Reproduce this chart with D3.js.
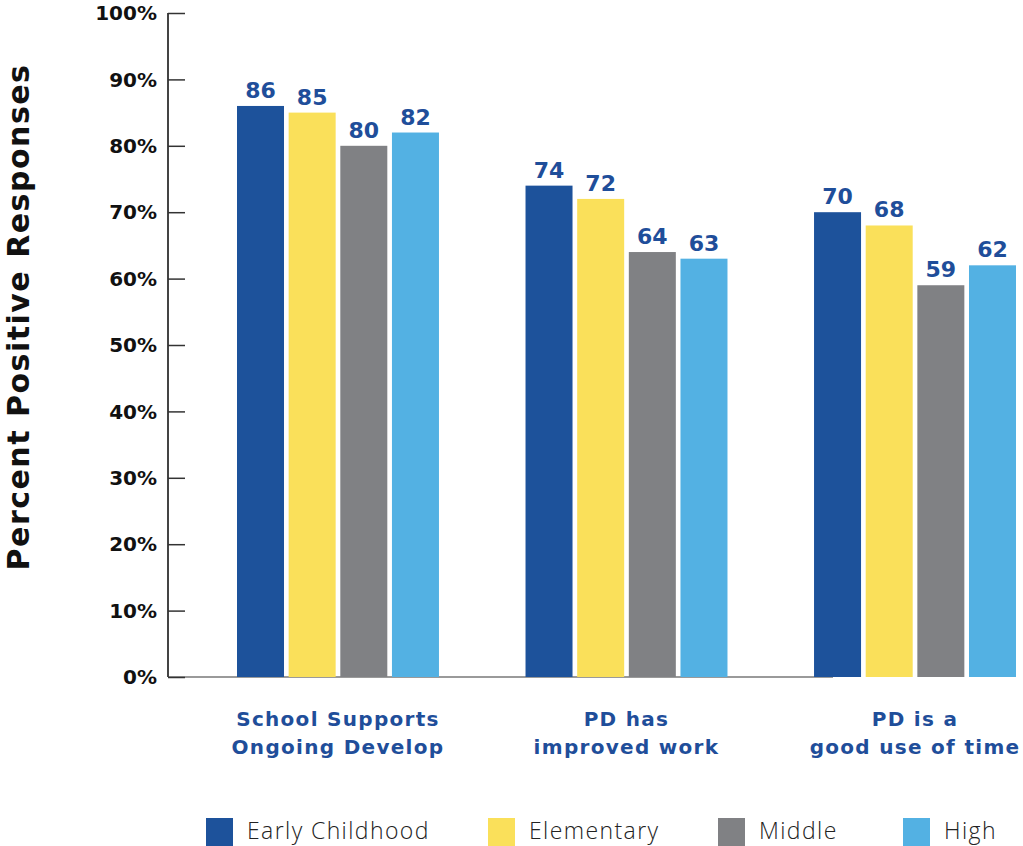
<!DOCTYPE html>
<html>
<head>
<meta charset="utf-8">
<script src="https://cdn.jsdelivr.net/npm/d3@7"></script>
<style>
  body { margin: 0; background: #fff; }
  svg { display: block; font-family: "DejaVu Sans", sans-serif; }
</style>
</head>
<body>
<div class="chart"></div>
<script>
var categories = [
    ['School Supports', 'Ongoing Develop'],
    ['PD has', 'improved work'],
    ['PD is a', 'good use of time']
];
var seriesNames = ['Early Childhood', 'Elementary', 'Middle', 'High'];
var earlyChildhood = [86, 74, 70];
var elementary = [85, 72, 68];
var middle = [80, 64, 59];
var high = [82, 63, 62];
var yTicks = [0, 10, 20, 30, 40, 50, 60, 70, 80, 90, 100];
var colors = ['#1d529b', '#fae05a', '#808184', '#53b1e3'];

var allSeries = [earlyChildhood, elementary, middle, high];
var data = categories.map(function (c, i) {
    return {
        key: i,
        label: c,
        values: seriesNames.map(function (s, j) { return { series: s, value: allSeries[j][i] }; })
    };
});

var W = 1023, H = 846;
var svg = d3.select('.chart')
    .append('svg')
    .attr('width', W)
    .attr('height', H);

var yScale = d3.scaleLinear().domain([0, 100]).range([677, 13]);

var x0 = d3.scaleBand()
    .domain(data.map(d => d.key))
    .range([237, 1016])
    .paddingInner(0.3)
    .paddingOuter(0);

var x1 = d3.scaleBand()
    .domain(seriesNames)
    .range([0, x0.bandwidth()])
    .paddingInner(0.09)
    .paddingOuter(0);

var color = d3.scaleOrdinal().domain(seriesNames).range(colors);

// baseline
svg.append('line')
    .attr('x1', 168).attr('x2', 833)
    .attr('y1', yScale(0)).attr('y2', yScale(0))
    .style('stroke', '#9a9a9a')
    .style('stroke-width', 2);

// y axis
var yAxis = svg.append('g')
    .attr('transform', 'translate(168, 0)')
    .call(d3.axisRight(yScale)
        .tickValues(yTicks)
        .tickSize(17)
        .tickFormat(d => ''));
yAxis.select('.domain').style('stroke', '#444').style('stroke-width', 2)
    .attr('d', 'M0,' + yScale(100) + 'V' + yScale(0));
yAxis.selectAll('.tick line').style('stroke', '#333').style('stroke-width', 1.5);

svg.append('g')
    .selectAll('text')
    .data(yTicks)
    .enter()
    .append('text')
    .attr('x', 157)
    .attr('y', d => yScale(d))
    .attr('dy', '0.36em')
    .attr('text-anchor', 'end')
    .style('font-size', '20px')
    .style('font-weight', 'bold')
    .style('fill', '#111')
    .text(d => d + '%');

// y title
svg.append('text')
    .attr('transform', 'translate(29, 317) rotate(-90)')
    .attr('text-anchor', 'middle')
    .style('font-size', '30px')
    .style('font-weight', 'bold')
    .style('letter-spacing', '1.5px')
    .style('fill', '#111')
    .text('Percent Positive Responses');

// bars
var groups = svg.selectAll('.group')
    .data(data)
    .enter()
    .append('g')
    .attr('class', 'group')
    .attr('transform', d => `translate(${x0(d.key)}, 0)`);

groups.selectAll('rect')
    .data(d => d.values)
    .enter()
    .append('rect')
    .attr('x', d => x1(d.series))
    .attr('y', d => yScale(d.value))
    .attr('width', x1.bandwidth())
    .attr('height', d => yScale(0) - yScale(d.value))
    .style('fill', d => color(d.series));

groups.selectAll('.val')
    .data(d => d.values)
    .enter()
    .append('text')
    .attr('class', 'val')
    .attr('x', d => x1(d.series) + x1.bandwidth() / 2)
    .attr('y', d => yScale(d.value) - 8)
    .attr('text-anchor', 'middle')
    .style('font-size', '22px')
    .style('font-weight', 'bold')
    .style('fill', '#1f4e9a')
    .text(d => d.value);

// category labels
groups.append('text')
    .attr('x', x0.bandwidth() / 2)
    .attr('y', 726)
    .attr('text-anchor', 'middle')
    .style('font-size', '20px')
    .style('font-weight', 'bold')
    .style('letter-spacing', '1.3px')
    .style('fill', '#1f4e9a')
    .selectAll('tspan')
    .data(d => d.label)
    .enter()
    .append('tspan')
    .attr('x', x0.bandwidth() / 2)
    .attr('dy', (d, i) => i === 0 ? 0 : 28)
    .text(d => d);

// legend
var legendX = [206, 488, 718, 903];
var legend = svg.selectAll('.legend')
    .data(seriesNames)
    .enter()
    .append('g')
    .attr('class', 'legend')
    .attr('transform', (d, i) => `translate(${legendX[i]}, 818)`);

legend.append('rect')
    .attr('width', 27)
    .attr('height', 28)
    .style('fill', d => color(d));

legend.append('text')
    .attr('x', 41)
    .attr('y', 21)
    .style('font-size', '23px')
    .style('font-family', '"Open Sans", sans-serif')
    .style('font-weight', 300)
    .style('letter-spacing', '1.4px')
    .style('fill', '#222')
    .text(d => d);
</script>
</body>
</html>
